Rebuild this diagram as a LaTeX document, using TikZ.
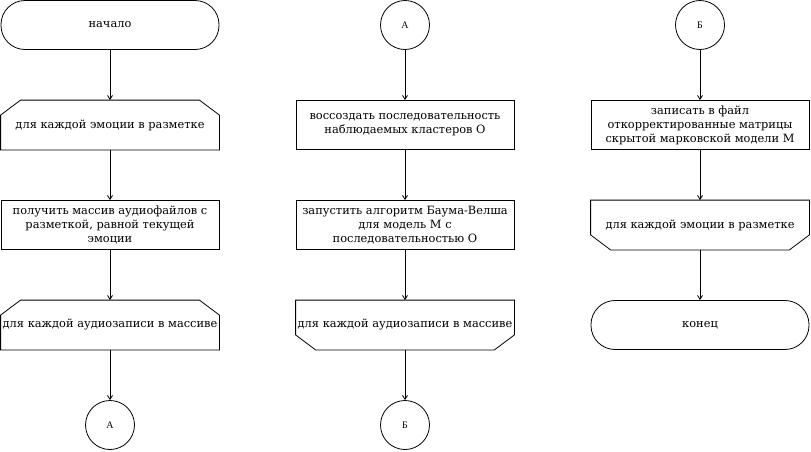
\documentclass[tikz,border=0pt]{standalone}
\usepackage{fontspec}
\setmainfont{DejaVu Serif}
\newfontfamily\conlabel{Liberation Serif}
\usetikzlibrary{arrows.meta}

\begin{document}
\begin{tikzpicture}[x=1pt,y=1pt,line width=0.8pt,
    font=\fontsize{11.4}{14}\selectfont]

      \useasboundingbox (0,0) rectangle (811,-451);

      \begin{scope}[every node/.style={draw,minimum width=218pt,minimum height=49pt,
          inner sep=1pt,align=center}]
        \node[rounded corners=24pt] (start)  at (110,-25)  {начало};
        \node[draw=none] (emo)  at (110,-125)  {для каждой эмоции в разметке};
        \node (files)  at (110,-225)  {получить массив аудиофайлов с\\разметкой, равной текущей\\эмоции};
        \node[draw=none] (rec)  at (110,-325)  {для каждой аудиозаписи в массиве};

        \node (seq)  at (405,-125)  {воссоздать последовательность\\наблюдаемых кластеров О};
        \node (bw)   at (405,-225)  {запустить алгоритм Баума-Велша\\для модель М с\\последовательностью О};
        \node[draw=none] (recend)  at (405,-325)  {для каждой аудиозаписи в массиве};

        \node (save)  at (700,-125)  {записать в файл\\откорректированные матрицы\\скрытой марковской модели М};
        \node[draw=none] (emoend)  at (700,-225)  {для каждой эмоции в разметке};
        \node[rounded corners=24pt] (stop)  at (700,-325)  {конец};
      \end{scope}

      % loop limits, corners cut off
      \foreach \n in {emo,rec}
        \draw ([yshift=-15pt]\n.north west) -- ([xshift=20pt]\n.north west)
          -- ([xshift=-20pt]\n.north east) -- ([yshift=-15pt]\n.north east)
          -- (\n.south east) -- (\n.south west) -- cycle;
      \foreach \n in {recend,emoend}
        \draw (\n.north west) -- (\n.north east) -- ([yshift=15pt]\n.south east)
          -- ([xshift=-20pt]\n.south east) -- ([xshift=20pt]\n.south west)
          -- ([yshift=15pt]\n.south west) -- cycle;

      \begin{scope}[every node/.style={circle,draw,minimum size=49pt,inner sep=0pt,
          font=\conlabel\fontsize{10}{12}\selectfont}]
        \node (a1)  at (110,-425)  {А};
        \node (a2)  at (405,-25)   {А};
        \node (b1)  at (405,-425)  {Б};
        \node (b2)  at (700,-25)   {Б};
      \end{scope}

      \begin{scope}[every edge/.style={draw,-{Straight Barb[length=4pt,width=5pt]}}]
        \path (start)  edge (emo);
        \path (emo)    edge (files);
        \path (files)  edge (rec);
        \path (rec)    edge (a1);
        \path (a2)     edge (seq);
        \path (seq)    edge (bw);
        \path (bw)     edge (recend);
        \path (recend) edge (b1);
        \path (b2)     edge (save);
        \path (save)   edge (emoend);
        \path (emoend) edge (stop);
      \end{scope}

    \end{tikzpicture}
\end{document}
